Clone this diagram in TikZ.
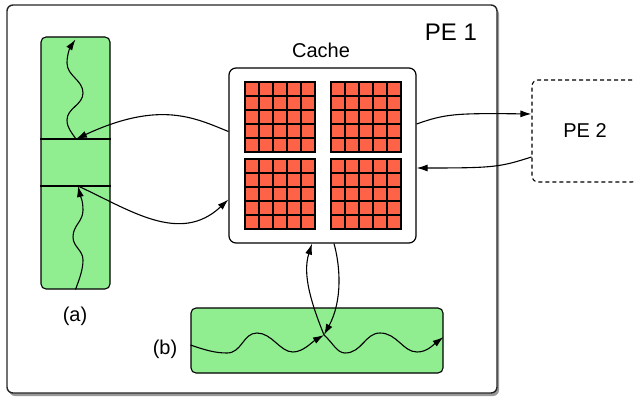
\documentclass[tikz,border=0pt]{standalone}
\usepackage{fontspec}
\setmainfont{Liberation Sans}
\usetikzlibrary{arrows.meta,positioning,shadows,calc}
\definecolor{regiongreen}{HTML}{90EE90}
\definecolor{cellred}{HTML}{FF6347}
\tikzset{
  pebox/.style={draw=black!85,line width=1.4pt,rounded corners=6pt,fill=white,inner sep=0pt,
    drop shadow={shadow xshift=2pt,shadow yshift=-3pt,opacity=.4,fill=black}},
  cachebox/.style={draw,line width=1.2pt,rounded corners=7pt,fill=white,inner sep=0pt},
  remotebox/.style={draw,dash pattern=on 4pt off 3pt,line width=1.1pt,rounded corners=6pt,
    inner sep=0pt,font=\fontsize{20}{24}\selectfont},
  regionbox/.style={draw,line width=1.1pt,rounded corners=5pt,fill=regiongreen,inner sep=0pt},
  cell/.style={draw,line width=1.3pt,fill=cellred},
  lbl/.style={inner sep=0pt,font=\fontsize{20}{24}\selectfont},
  flowarrow/.style={-{Latex[length=11pt,width=7pt]},line width=1.1pt},
  plainline/.style={line width=1.1pt}
}
\begin{document}
\begin{tikzpicture}[x=1pt,y=-1pt]
\useasboundingbox (0,0) rectangle (634,401);
% boxes
\node[pebox,minimum width=490pt,minimum height=388pt] (pe1) at (252,199) {};
\node[lbl,font=\fontsize{24}{28}\selectfont] (pe1lbl) at (451,32) {PE 1};
\node[remotebox,minimum width=106pt,minimum height=102pt] (pe2) at (585,131) {PE 2};
\node[cachebox,minimum width=187pt,minimum height=175pt] (cache) at (322.5,155.5) {};
\node[lbl] (cachelbl) at (321,50) {Cache};
\foreach \gx/\gy in {245/82,331/82,245/159,331/159}
  \foreach \i in {0,...,4}
    \foreach \j in {0,...,4}
      \draw[cell] (\gx+\i*14,\gy+\j*14) rectangle ++(14,14);
\node[regionbox,minimum width=69pt,minimum height=252pt] (rega) at (75.5,163) {};
\node[lbl] (rega lbl) at (75,316) {(a)};
\node[regionbox,minimum width=252pt,minimum height=65pt] (regb) at (317,340.5) {};
\node[lbl] (regb lbl) at (165,349) {(b)};
\coordinate (atop) at (76,139);
\coordinate (asplit) at (78,186);
\coordinate (bjoin) at (324,335);
\draw[plainline] (rega.west |- atop) -- (rega.east |- atop);
\draw[plainline] (rega.west |- asplit) -- (rega.east |- asplit);
% region (a)
\draw[flowarrow] (atop) .. controls (72,133) and (67,128) .. (67,120)
  .. controls (67,108) and (83,105) .. (83,93)
  .. controls (83,80) and (67,76) .. (67,63)
  .. controls (67,53) and (71,46) .. ([yshift=-3pt]rega.north);
\draw[flowarrow] (rega.south) .. controls (79,280) and (83,270) .. (83,260)
  .. controls (83,250) and (73,247) .. (73,237)
  .. controls (73,225) and (83,222) .. (83,210)
  .. controls (83,200) and (80,195) .. (asplit);
\draw[flowarrow] ([yshift=24pt]cache.west) .. controls (195,118) and (160,100) .. (atop);
\draw[flowarrow] (asplit) .. controls (130,210) and (180,245) .. ([yshift=-44pt]cache.west);
% remote PE
\draw[flowarrow] ([yshift=31.5pt]cache.east) .. controls (445,114) and (455,113) .. ([yshift=17pt]pe2.west);
\draw[flowarrow] ([yshift=-26pt]pe2.west) .. controls (500,167) and (495,168) .. ([yshift=-12.5pt]cache.east);
% region (b)
\draw[flowarrow] ([xshift=11.5pt]cache.south) .. controls (340,265) and (343,300) .. (bjoin);
\draw[flowarrow] (bjoin) .. controls (312,305) and (302,275) .. ([xshift=-10.5pt]cache.south);
\draw[flowarrow] ([yshift=-4.5pt]regb.west) .. controls (205,350) and (215,353) .. (227,353)
  .. controls (242,353) and (243,333) .. (257,333)
  .. controls (272,333) and (280,352) .. (293,352)
  .. controls (303,352) and (312,342) .. (bjoin);
\draw[flowarrow] (bjoin) .. controls (333,343) and (337,353) .. (345,353)
  .. controls (362,353) and (365,333) .. (380,333)
  .. controls (397,333) and (403,352) .. (417,352)
  .. controls (427,352) and (433,345) .. ([yshift=3.5pt]regb.east);
\end{tikzpicture}
\end{document}
